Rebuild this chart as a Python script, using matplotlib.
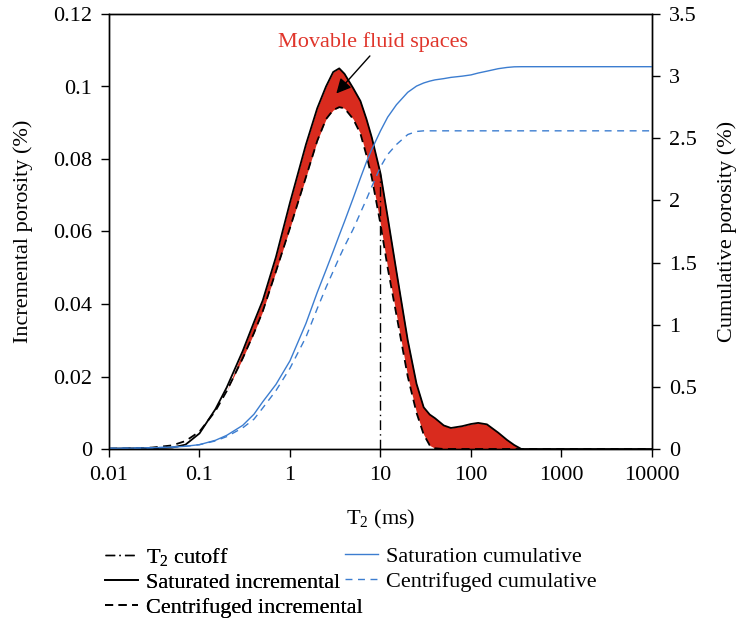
import numpy as np
import matplotlib
matplotlib.use('Agg')
import matplotlib.pyplot as plt

plt.rcParams['font.family'] = ['Liberation Serif', 'DejaVu Serif']
plt.rcParams['mathtext.fontset'] = 'custom'
plt.rcParams['mathtext.rm'] = 'Liberation Serif'
plt.rcParams['mathtext.it'] = 'Liberation Serif:italic'

# T2 relaxation time (ms)
t2 = np.array([0.01, 0.02, 0.03, 0.05, 0.07, 0.1, 0.15, 0.2, 0.3, 0.4, 0.5, 0.7,
               1, 1.5, 2, 2.5, 3, 3.5, 4, 5, 6, 7, 8, 10, 12, 15, 20, 25, 30, 35,
               40, 50, 60, 80, 100, 120, 150, 200, 250, 300, 360, 500, 1000, 3000, 10000])

# incremental porosity (%)
sat_inc = np.array([0.0001, 0.0002, 0.0002, 0.0004, 0.0012, 0.0043, 0.011, 0.017, 0.027, 0.035, 0.041, 0.053,
                    0.068, 0.084, 0.094, 0.100, 0.104, 0.105, 0.1035, 0.0995, 0.096, 0.091, 0.086, 0.076, 0.064, 0.049, 0.030, 0.018, 0.0115, 0.0095,
                    0.0085, 0.0065, 0.0058, 0.0063, 0.0069, 0.0072, 0.0068, 0.0045, 0.0025, 0.0011, 0.0, 0.0, 0.0, 0.0, 0.0])
cen_inc = np.array([0.0001, 0.0002, 0.0004, 0.0010, 0.0022, 0.0048, 0.0105, 0.016, 0.025, 0.032, 0.038, 0.049,
                    0.061, 0.075, 0.085, 0.091, 0.0935, 0.0943, 0.094, 0.091, 0.087, 0.081, 0.075, 0.062, 0.050, 0.037, 0.020, 0.010, 0.004, 0.001,
                    0.0002, 0.0, 0.0, 0.0, 0.0, 0.0, 0.0, 0.0, 0.0, 0.0, 0.0, 0.0, 0.0, 0.0, 0.0])

# cumulative porosity (%)
sat_cum = np.array([0.005, 0.007, 0.010, 0.015, 0.022, 0.035, 0.070, 0.11, 0.19, 0.28, 0.38, 0.52,
                    0.71, 1.01, 1.26, 1.44, 1.59, 1.72, 1.83, 2.02, 2.18, 2.31, 2.41, 2.56, 2.67, 2.77, 2.87, 2.92, 2.945, 2.96,
                    2.97, 2.98, 2.99, 3.00, 3.01, 3.025, 3.04, 3.06, 3.07, 3.075, 3.076, 3.076, 3.076, 3.076, 3.076])
cen_cum = np.array([0.005, 0.007, 0.010, 0.015, 0.022, 0.035, 0.065, 0.10, 0.17, 0.24, 0.33, 0.47,
                    0.65, 0.90, 1.13, 1.30, 1.43, 1.54, 1.63, 1.77, 1.90, 2.01, 2.11, 2.27, 2.37, 2.45, 2.53, 2.555, 2.56, 2.56,
                    2.56, 2.56, 2.56, 2.56, 2.56, 2.56, 2.56, 2.56, 2.56, 2.56, 2.56, 2.56, 2.56, 2.56, 2.56])

t2_cutoff = 10
y_ticks_left = [0, 0.02, 0.04, 0.06, 0.08, 0.1, 0.12]
y_ticks_right = [0, 0.5, 1, 1.5, 2, 2.5, 3, 3.5]
x_ticks = [0.01, 0.1, 1, 10, 100, 1000, 10000]

RED = '#D92B1E'
BLUE = '#3C7DD0'
FS = 16

fig = plt.figure(figsize=(7.38, 6.24), dpi=100)
ax = fig.add_axes([109/738, 1 - 449/624, (652 - 109)/738, (449 - 14)/624])
ax2 = ax.twinx()

ax.fill_between(t2, cen_inc, sat_inc, where=t2 >= 0.25, color=RED, lw=0, interpolate=True, zorder=1)
cut_top = np.interp(np.log10(t2_cutoff), np.log10(t2), sat_inc)
l_cut, = ax.plot([t2_cutoff, t2_cutoff], [0, cut_top], color='black', lw=1.0,
                 ls=(0, (7, 3, 1, 3)), zorder=2)
l_sat, = ax.plot(t2, sat_inc, color='black', lw=1.3, zorder=3)
l_cen, = ax.plot(t2, cen_inc, color='black', lw=1.3, ls=(0, (4.5, 3)), zorder=3)

l_scum, = ax2.plot(t2, sat_cum, color=BLUE, lw=1.0)
l_ccum, = ax2.plot(t2, cen_cum, color=BLUE, lw=1.0, ls=(0, (5, 4)))

ax.set_xscale('log')
ax.set_xlim(0.01, 10000)
ax.set_ylim(0, 0.12)
ax2.set_ylim(0, 3.5)
ax.set_xticks(x_ticks)
ax.set_xticklabels(['0.01', '0.1', '1', '10', '100', '1000', '10000'])
ax.minorticks_off()
ax.set_yticks(y_ticks_left)
ax.set_yticklabels(['0', '0.02', '0.04', '0.06', '0.08', '0.1', '0.12'])
ax2.set_yticks(y_ticks_right)
ax2.set_yticklabels(['0', '0.5', '1', '1.5', '2', '2.5', '3', '3.5'])

for a in (ax, ax2):
    a.tick_params(direction='out', length=6, width=1.0, labelsize=FS, pad=6)
    for s in a.spines.values():
        s.set_linewidth(1.0)

ax.set_xlabel(r'T$_2$ (ms)', fontsize=FS, labelpad=17)
ax.set_ylabel('Incremental porosity (%)', fontsize=FS, labelpad=15)
ax2.set_ylabel('Cumulative porosity (%)', fontsize=FS, labelpad=15)

ax.text(8.3, 0.1123, 'Movable fluid spaces', color='#E0352B', fontsize=FS,
        ha='center', va='center', zorder=5)
ax.annotate('', xy=(3.1, 0.0975), xytext=(8.0, 0.1090),
            arrowprops=dict(arrowstyle='-|>', color='black', lw=1.0, mutation_scale=22),
            zorder=5)

leg_kw = dict(loc='upper left', frameon=False, fontsize=FS, handlelength=1.5,
              handletextpad=0.35, labelspacing=0.2, borderpad=0, borderaxespad=0)
leg1 = fig.legend([l_cut, l_sat, l_cen],
                  [r'T$_2$ cutoff', 'Saturated incremental', 'Centrifuged incremental'],
                  bbox_to_anchor=(105/738, 1 - 546/624), **leg_kw)
leg2 = fig.legend([l_scum, l_ccum],
                  ['Saturation cumulative', 'Centrifuged cumulative'],
                  bbox_to_anchor=(345/738, 1 - 546/624), **leg_kw)
fig.add_artist(leg1)

fig.savefig('out.png', dpi=100)
